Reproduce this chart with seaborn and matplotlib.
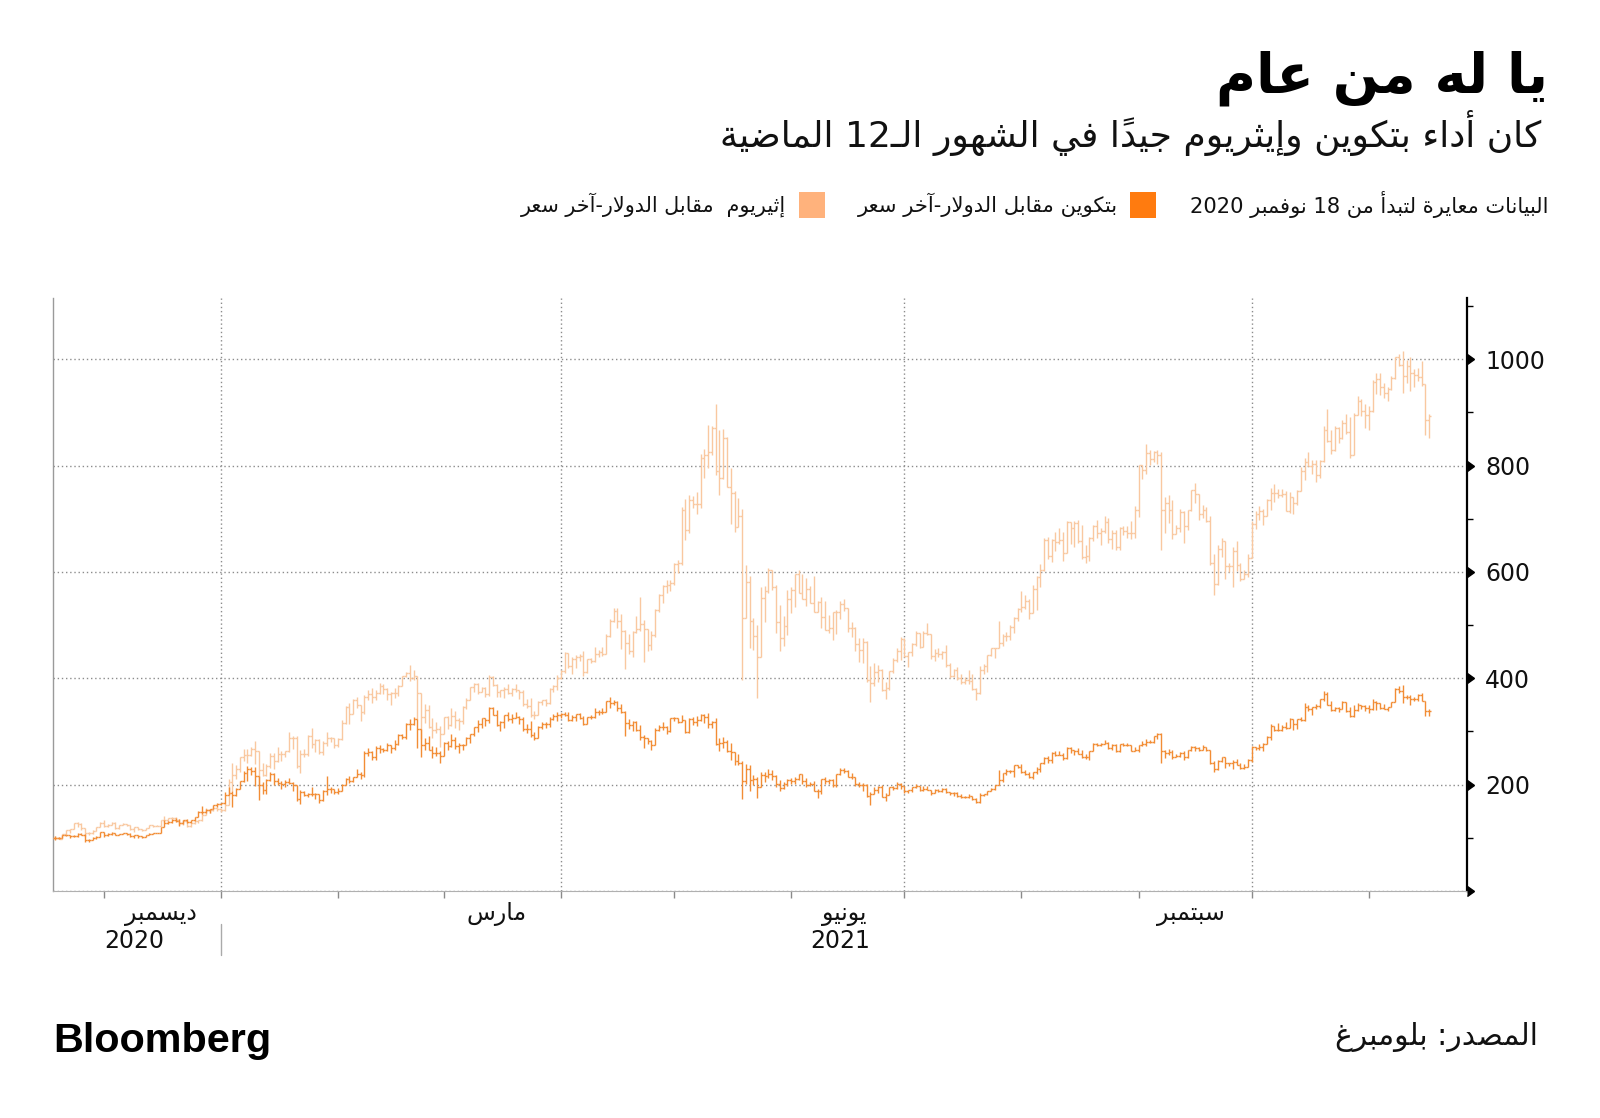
import numpy as np
import pandas as pd
import matplotlib
matplotlib.use("Agg")
import matplotlib.pyplot as plt
import matplotlib.dates as mdates
import matplotlib.transforms as mtrans
from matplotlib.lines import Line2D
from matplotlib.patches import Rectangle
import seaborn as sns

# ---------------- data (daily, 18 Nov 2020 -> 17 Nov 2021) ----------------
start_date = "2020-11-18"

# Bitcoin vs USD, thousands of dollars
btc_close = [
    17.8, 17.8, 18.7, 18.7, 18.4, 18.4, 19.1, 18.7, 17.2, 17.1, 17.7, 18.2, 19.6,
    18.8, 19.2, 19.4, 18.7, 19.2, 19.4, 19.2, 18.3, 18.6, 18.3, 18.0, 18.8, 19.2, 19.3, 19.4, 21.4, 22.8, 23.1, 23.9, 23.5, 22.7, 23.8, 23.2, 23.7, 24.7, 26.4, 26.3, 27.0, 27.4, 28.8, 29.0,
    29.4, 32.1, 32.8, 32.0, 34.0, 36.8, 39.4, 40.8, 40.3, 38.4, 35.6, 33.9, 37.3, 39.2, 36.8, 36.2, 35.8, 36.6, 36.1, 35.5, 30.8, 33.0, 32.1, 32.3, 32.4, 32.6, 30.4, 33.5, 34.3, 34.3, 33.1,
    33.5, 35.5, 37.5, 36.9, 38.1, 39.3, 38.9, 46.2, 46.5, 44.9, 47.9, 47.5, 47.1, 48.7, 47.9, 49.2, 52.2, 51.7, 55.9, 55.9, 57.5, 54.1, 48.9, 49.7, 47.1, 46.3, 46.2, 45.1,
    49.6, 48.4, 50.5, 48.6, 48.9, 48.9, 51.2, 52.4, 54.9, 56.0, 57.8, 57.2, 61.2, 59.0, 55.6, 56.5, 58.9, 57.6, 58.0, 58.1, 57.4, 54.1, 54.3, 52.3, 51.3, 55.0, 55.8, 55.8, 57.6, 58.7, 58.9,
    59.1, 59.0, 57.1, 58.2, 59.1, 58.0, 56.0, 58.1, 58.1, 59.8, 59.9, 59.8, 63.5, 62.9, 63.2, 61.4, 60.0, 56.2, 55.7, 56.5, 53.8, 51.7, 51.1, 50.1, 49.0, 54.0, 55.0, 54.8, 53.6, 57.8,
    57.8, 56.6, 57.2, 53.2, 57.5, 56.4, 57.3, 58.8, 58.2, 55.8, 56.7, 49.2, 49.7, 49.9, 46.8, 46.4, 43.5, 42.9, 36.7, 40.8, 37.3, 37.5, 34.7, 38.8, 38.4, 39.3, 38.4, 35.7, 34.6, 35.7, 37.3,
    36.7, 37.6, 39.2, 36.9, 35.5, 35.8, 33.6, 33.4, 37.4, 36.7, 37.3, 35.6, 39.1, 40.5, 40.1, 38.3, 38.1, 35.8, 35.5, 35.6, 31.7, 32.5, 33.7, 34.7, 31.6, 32.2, 34.7, 34.5, 35.9, 35.0,
    33.5, 33.8, 34.7, 35.3, 33.7, 34.2, 33.9, 32.9, 33.8, 33.5, 34.3, 33.1, 32.7, 32.8, 31.8, 31.4, 31.5, 31.8, 30.8, 29.8, 32.1, 32.3, 33.6, 34.3, 35.4, 37.3, 39.5, 40.0, 40.0, 42.2, 41.6,
    39.9, 39.2, 38.2, 39.7, 40.9, 42.8, 44.6, 43.8, 46.3, 45.6, 45.6, 44.4, 47.8, 47.1, 47.0, 45.9, 44.7, 44.8, 46.7, 49.3, 48.9, 49.3, 49.5, 47.7, 48.9, 46.9, 49.1, 48.9, 48.8, 47.0, 47.2,
    48.8, 49.3, 50.0, 49.9, 51.8, 52.7, 46.8, 46.1, 46.4, 44.9, 45.2, 46.1, 44.9, 47.1, 48.1, 47.8, 47.3, 48.3, 47.3, 43.0, 40.7, 43.6, 44.9, 42.8, 42.7, 43.2, 42.2, 41.0, 41.5, 43.8,
    48.2, 47.7, 48.2, 49.1, 51.5, 55.3, 53.8, 53.9, 55.0, 54.7, 57.5, 56.0, 57.4, 57.3, 61.7, 60.9, 61.5, 62.0, 64.3, 66.0, 62.2, 60.7, 61.4, 60.9, 63.2, 60.3, 58.5, 60.6, 62.3, 61.9, 61.3,
    61.0, 63.2, 62.9, 61.4, 61.0, 61.5, 63.3, 67.6, 66.9, 64.9, 64.9, 64.2, 64.4, 65.5, 63.6, 60.2, 60.4,
]
btc_high = [
    18.4, 18.1, 18.8, 18.9, 18.8, 18.7, 19.4, 19.5, 19.0, 17.4, 18.2, 18.3, 19.9,
    19.8, 19.4, 19.6, 19.5, 19.2, 19.4, 19.4, 19.3, 18.6, 18.6, 18.3, 18.9, 19.4, 19.4, 19.5, 21.5, 23.8, 23.3, 24.1, 24.3, 24.1, 23.8, 24.1, 23.8, 24.8, 26.7, 28.4, 27.4, 27.4, 28.9, 29.3,
    29.6, 33.2, 34.8, 33.6, 34.4, 36.9, 40.2, 41.9, 41.4, 41.4, 38.3, 36.6, 37.6, 39.7, 39.6, 37.9, 36.9, 37.3, 37.8, 36.4, 35.6, 33.8, 33.6, 32.9, 34.8, 32.8, 32.6, 33.8, 38.4, 34.8, 34.3,
    34.6, 35.9, 37.7, 38.6, 38.3, 40.9, 39.7, 46.7, 48.0, 47.0, 48.4, 48.9, 48.0, 49.6, 49.0, 50.5, 52.5, 52.5, 56.2, 57.5, 58.4, 57.5, 54.2, 51.3, 51.8, 48.4, 48.3, 46.9,
    49.8, 50.1, 52.6, 51.7, 49.4, 49.2, 51.4, 52.6, 54.9, 57.3, 58.0, 58.0, 61.7, 61.6, 60.5, 56.8, 58.9, 60.0, 59.4, 59.9, 58.6, 58.4, 55.8, 57.0, 53.2, 55.1, 56.6, 56.5, 58.4, 59.4, 59.8,
    59.5, 60.0, 59.8, 58.9, 59.2, 59.5, 58.6, 58.2, 58.9, 61.2, 60.7, 61.2, 63.7, 64.9, 63.8, 63.6, 62.5, 60.4, 57.5, 57.0, 56.8, 55.4, 52.1, 51.2, 50.6, 54.4, 55.4, 56.4, 55.2, 58.0,
    58.4, 57.9, 58.9, 57.0, 57.9, 58.3, 58.6, 59.3, 59.2, 59.5, 57.0, 57.9, 51.3, 51.4, 50.7, 49.7, 46.6, 45.8, 43.5, 42.4, 42.2, 38.8, 38.3, 39.8, 39.8, 40.8, 40.4, 38.8, 37.2, 36.4, 37.5,
    37.9, 38.2, 39.3, 39.2, 37.8, 36.4, 36.8, 34.0, 37.5, 38.1, 37.6, 37.4, 39.3, 41.0, 41.3, 40.5, 39.4, 38.2, 36.4, 36.0, 35.7, 33.3, 34.8, 35.2, 35.5, 32.7, 34.7, 35.2, 36.6, 36.0,
    35.0, 33.9, 34.9, 35.9, 35.3, 35.0, 35.0, 33.9, 34.0, 34.2, 34.6, 34.6, 33.3, 33.1, 33.2, 32.3, 31.9, 32.4, 31.9, 31.0, 32.8, 32.5, 33.6, 34.4, 35.4, 40.5, 39.5, 40.9, 40.6, 42.3, 42.3,
    42.6, 40.4, 39.8, 39.9, 41.4, 43.0, 44.7, 45.3, 46.5, 46.7, 46.7, 46.2, 48.1, 48.1, 47.3, 48.0, 47.1, 46.0, 47.0, 49.4, 49.7, 49.4, 50.4, 49.8, 49.2, 49.3, 49.1, 49.6, 49.6, 48.9, 48.1,
    48.9, 50.3, 51.0, 50.5, 51.9, 52.8, 52.9, 47.3, 47.4, 47.1, 45.9, 46.4, 46.7, 47.3, 48.4, 48.4, 48.2, 48.7, 48.3, 47.3, 43.6, 44.0, 44.9, 45.0, 43.0, 44.0, 44.3, 42.7, 42.5, 44.1,
    48.5, 48.3, 49.3, 49.4, 51.9, 55.8, 55.3, 56.1, 55.4, 56.5, 57.8, 57.7, 57.6, 58.4, 62.8, 62.2, 61.7, 62.6, 64.4, 66.9, 66.6, 63.6, 61.7, 61.5, 63.7, 63.2, 61.5, 62.1, 62.9, 62.4, 62.4,
    62.4, 64.2, 63.5, 63.0, 62.6, 61.6, 63.3, 67.8, 68.5, 69.0, 65.6, 65.5, 65.0, 65.8, 66.4, 63.6, 60.8,
]
btc_low = [
    17.2, 17.4, 17.7, 18.4, 17.7, 18.0, 18.0, 18.6, 16.4, 16.5, 17.0, 17.5, 18.2,
    18.2, 18.4, 18.9, 18.6, 18.6, 19.0, 18.9, 18.2, 17.7, 17.9, 17.6, 18.0, 18.8, 19.0, 19.3, 19.4, 21.3, 22.4, 22.8, 23.1, 21.9, 22.4, 22.7, 22.8, 23.5, 24.6, 25.8, 26.1, 26.0, 27.3, 28.0,
    28.8, 29.1, 32.0, 28.1, 31.8, 34.0, 36.4, 36.9, 38.7, 35.1, 30.5, 32.6, 32.6, 36.8, 35.6, 35.5, 34.1, 34.9, 35.9, 33.6, 30.1, 29.2, 31.7, 31.4, 31.9, 30.9, 29.5, 30.0, 32.1, 32.7, 32.4,
    32.3, 33.4, 35.4, 36.2, 36.6, 38.1, 37.4, 38.1, 45.2, 43.8, 43.9, 46.2, 46.4, 47.0, 46.3, 47.1, 48.9, 50.9, 50.9, 53.9, 55.5, 48.0, 45.0, 47.2, 47.1, 44.5, 45.1, 43.0,
    45.1, 47.2, 48.2, 47.5, 46.3, 47.1, 48.9, 49.4, 51.8, 53.1, 54.4, 55.3, 56.1, 59.0, 55.1, 53.6, 54.4, 57.0, 56.3, 57.9, 56.0, 53.7, 53.0, 51.7, 50.4, 51.6, 54.2, 54.7, 55.0, 57.3, 56.9,
    57.9, 58.5, 56.9, 57.0, 56.8, 57.6, 55.6, 55.9, 57.7, 58.0, 59.0, 59.4, 59.8, 61.3, 62.2, 60.2, 59.6, 52.0, 54.1, 53.4, 53.6, 50.6, 47.8, 49.1, 47.1, 49.0, 53.4, 53.9, 52.4, 53.1,
    56.9, 56.1, 56.5, 53.0, 52.9, 55.4, 55.3, 56.9, 56.3, 54.6, 54.4, 48.9, 46.9, 48.0, 46.6, 43.9, 42.2, 42.3, 30.7, 35.8, 33.5, 35.4, 31.2, 34.9, 36.5, 37.8, 37.3, 34.7, 33.6, 34.0, 35.2,
    35.8, 35.9, 37.2, 35.7, 34.8, 35.3, 33.4, 31.1, 32.4, 35.8, 35.9, 34.8, 34.9, 38.8, 39.5, 38.1, 37.4, 35.2, 34.9, 33.4, 31.4, 28.9, 32.4, 32.8, 31.3, 30.2, 32.0, 33.9, 34.3, 34.0,
    32.8, 32.7, 33.1, 34.4, 33.4, 33.6, 33.8, 32.2, 32.9, 33.1, 33.2, 32.7, 32.2, 31.9, 31.6, 31.1, 31.1, 31.2, 30.6, 29.3, 29.5, 31.8, 32.2, 33.4, 33.9, 35.4, 36.5, 38.8, 39.4, 38.3, 41.1,
    39.5, 38.7, 37.7, 37.6, 39.0, 39.9, 42.5, 43.0, 43.0, 45.2, 45.4, 43.9, 44.3, 46.3, 45.6, 45.8, 44.6, 44.3, 43.8, 46.7, 48.6, 48.4, 49.3, 47.6, 47.2, 46.6, 46.6, 48.6, 48.4, 46.9, 46.7,
    46.6, 48.6, 48.5, 49.5, 49.5, 50.9, 43.0, 44.6, 45.4, 44.2, 44.8, 44.9, 43.8, 44.6, 46.8, 47.0, 46.8, 47.1, 46.9, 42.5, 39.8, 40.6, 43.1, 41.2, 41.7, 40.9, 42.1, 40.9, 40.8, 41.5,
    43.3, 47.1, 47.2, 46.9, 49.1, 50.4, 53.4, 53.7, 53.7, 54.1, 54.4, 53.9, 54.2, 56.9, 56.9, 60.3, 58.9, 60.9, 61.3, 63.6, 62.1, 60.1, 60.1, 59.8, 60.8, 59.9, 58.2, 58.2, 60.4, 60.9, 60.1,
    59.5, 60.7, 60.5, 60.8, 60.9, 60.2, 61.5, 63.3, 66.3, 63.0, 64.2, 62.3, 63.6, 63.7, 63.5, 58.7, 58.5,
]

# Ether vs USD, dollars
eth_close = [
    479, 472, 509, 549, 560, 608, 604, 568, 518, 518, 538, 575, 616,
    588, 598, 616, 569, 596, 601, 591, 554, 573, 560, 546, 568, 590, 586, 589, 636, 642, 654, 659, 638, 609, 634, 583, 611, 626, 635, 683, 731, 732, 751, 737,
    730, 775, 979, 1042, 1100, 1208, 1225, 1224, 1281, 1263, 1087, 1045, 1130, 1218, 1171, 1233, 1230, 1257, 1377, 1382, 1122, 1234, 1233, 1392, 1324, 1358, 1253, 1331, 1382, 1376, 1314,
    1369, 1515, 1660, 1594, 1719, 1677, 1614, 1750, 1770, 1743, 1785, 1843, 1815, 1776, 1781, 1781, 1848, 1937, 1960, 1919, 1935, 1781, 1570, 1626, 1475, 1446, 1459, 1417,
    1565, 1492, 1575, 1541, 1533, 1655, 1723, 1834, 1868, 1795, 1825, 1772, 1924, 1855, 1792, 1806, 1822, 1782, 1816, 1812, 1788, 1683, 1670, 1584, 1589, 1702, 1716, 1691, 1819, 1846, 1919,
    1977, 2143, 2028, 2093, 2108, 2118, 1971, 2088, 2073, 2136, 2153, 2139, 2299, 2435, 2519, 2431, 2344, 2237, 2166, 2330, 2364, 2403, 2363, 2213, 2303, 2534, 2662, 2747, 2757, 2773,
    2945, 2950, 3431, 3253, 3522, 3490, 3484, 3903, 3928, 3952, 4168, 3785, 3716, 4079, 3641, 3587, 3282, 3379, 2460, 2784, 2430, 2296, 2109, 2643, 2706, 2888, 2736, 2419, 2279, 2390, 2633,
    2707, 2855, 2688, 2631, 2716, 2590, 2517, 2607, 2472, 2353, 2373, 2510, 2510, 2589, 2549, 2367, 2372, 2228, 2175, 2240, 1898, 1875, 1971, 1988, 1813, 1830, 1982, 2085, 2163, 2274,
    2114, 2150, 2226, 2320, 2199, 2324, 2316, 2116, 2147, 2139, 2155, 2036, 1940, 1994, 1918, 1880, 1898, 1895, 1820, 1787, 1990, 2025, 2124, 2188, 2191, 2233, 2299, 2298, 2381, 2462, 2536,
    2561, 2610, 2502, 2724, 2827, 2891, 3158, 3013, 3164, 3141, 3164, 3048, 3322, 3265, 3310, 3150, 3011, 3017, 3183, 3286, 3226, 3243, 3320, 3173, 3225, 3101, 3269, 3245, 3227, 3227, 3434,
    3835, 3793, 3944, 3887, 3951, 3927, 3427, 3497, 3427, 3211, 3270, 3410, 3285, 3430, 3613, 3572, 3398, 3432, 3329, 2958, 2764, 3077, 3155, 2931, 2925, 3063, 2934, 2807, 2853, 3001,
    3307, 3391, 3418, 3380, 3518, 3581, 3587, 3563, 3576, 3425, 3545, 3492, 3606, 3786, 3863, 3830, 3847, 3748, 3877, 4155, 4054, 3970, 4168, 4082, 4217, 4131, 3930, 4287, 4414, 4325, 4288,
    4324, 4584, 4607, 4537, 4482, 4521, 4620, 4813, 4735, 4637, 4726, 4668, 4648, 4627, 4568, 4239, 4281,
]
eth_high = [
    494, 484, 512, 551, 562, 611, 620, 616, 571, 533, 546, 580, 619,
    635, 606, 623, 619, 597, 609, 605, 594, 577, 574, 561, 569, 594, 593, 597, 643, 675, 659, 667, 663, 644, 640, 634, 614, 628, 638, 709, 750, 735, 754, 753,
    749, 788, 1011, 1155, 1132, 1210, 1278, 1283, 1300, 1353, 1263, 1150, 1140, 1243, 1241, 1293, 1262, 1263, 1430, 1397, 1396, 1270, 1281, 1402, 1468, 1373, 1369, 1349, 1435, 1389, 1380,
    1376, 1540, 1663, 1695, 1731, 1747, 1655, 1766, 1808, 1828, 1806, 1874, 1866, 1827, 1795, 1824, 1854, 1937, 1973, 2036, 1987, 1938, 1778, 1684, 1672, 1562, 1524, 1482,
    1567, 1573, 1650, 1620, 1555, 1670, 1734, 1838, 1875, 1872, 1839, 1839, 1941, 1934, 1867, 1808, 1833, 1868, 1827, 1868, 1813, 1809, 1725, 1737, 1625, 1707, 1719, 1728, 1832, 1852, 1942,
    1988, 2152, 2145, 2107, 2130, 2139, 2160, 2093, 2103, 2195, 2175, 2201, 2318, 2448, 2545, 2547, 2497, 2350, 2314, 2346, 2478, 2644, 2437, 2364, 2345, 2537, 2675, 2756, 2797, 2800,
    2951, 2985, 3457, 3535, 3565, 3562, 3590, 3933, 3982, 4197, 4188, 4382, 4151, 4160, 4085, 3811, 3601, 3540, 3437, 2936, 2839, 2459, 2393, 2734, 2745, 2911, 2890, 2760, 2575, 2475, 2708,
    2739, 2785, 2891, 2859, 2817, 2744, 2836, 2616, 2646, 2616, 2487, 2514, 2533, 2615, 2631, 2550, 2424, 2381, 2283, 2280, 2256, 2026, 2053, 2033, 2000, 1883, 1985, 2099, 2186, 2289,
    2281, 2154, 2237, 2344, 2318, 2346, 2411, 2317, 2180, 2188, 2161, 2217, 2049, 2002, 2021, 1958, 1926, 1993, 1951, 1825, 2027, 2044, 2130, 2190, 2191, 2432, 2316, 2332, 2392, 2466, 2551,
    2700, 2665, 2629, 2752, 2837, 2942, 3182, 3186, 3172, 3229, 3269, 3234, 3330, 3317, 3330, 3337, 3293, 3114, 3186, 3295, 3340, 3268, 3373, 3359, 3251, 3248, 3279, 3283, 3284, 3330, 3465,
    3839, 3837, 4028, 3970, 3966, 3970, 3958, 3547, 3564, 3522, 3292, 3439, 3426, 3432, 3614, 3676, 3572, 3474, 3460, 3381, 3032, 3120, 3175, 3150, 2953, 3098, 3156, 2953, 2892, 3037,
    3336, 3425, 3464, 3439, 3534, 3632, 3662, 3625, 3625, 3600, 3597, 3545, 3614, 3818, 3896, 3957, 3884, 3881, 3880, 4185, 4340, 4148, 4184, 4176, 4239, 4296, 4266, 4305, 4457, 4431, 4387,
    4364, 4601, 4661, 4667, 4572, 4542, 4636, 4812, 4838, 4868, 4778, 4811, 4705, 4714, 4772, 4558, 4294,
]
eth_low = [
    465, 464, 471, 508, 523, 559, 579, 551, 486, 504, 511, 537, 573,
    575, 576, 594, 560, 559, 591, 587, 548, 531, 548, 541, 545, 567, 577, 582, 588, 624, 625, 648, 630, 592, 594, 576, 577, 604, 610, 634, 681, 707, 722, 717,
    716, 717, 774, 897, 1010, 1072, 1170, 1157, 1215, 1140, 917, 1037, 1034, 1107, 1101, 1162, 1174, 1210, 1252, 1280, 1108, 1064, 1211, 1213, 1291, 1253, 1230, 1228, 1305, 1338, 1292,
    1301, 1364, 1507, 1508, 1596, 1648, 1533, 1593, 1718, 1696, 1722, 1777, 1770, 1722, 1678, 1740, 1755, 1842, 1923, 1891, 1897, 1546, 1371, 1516, 1468, 1376, 1427, 1301,
    1414, 1462, 1482, 1465, 1449, 1505, 1635, 1722, 1791, 1778, 1788, 1751, 1759, 1847, 1750, 1750, 1742, 1776, 1757, 1793, 1731, 1669, 1645, 1563, 1547, 1589, 1674, 1667, 1680, 1795, 1811,
    1910, 1960, 2011, 1957, 2012, 2073, 1940, 1962, 2053, 2062, 2110, 2115, 2137, 2292, 2419, 2370, 2181, 2000, 2137, 2110, 2321, 2338, 2062, 2162, 2168, 2292, 2517, 2594, 2680, 2700,
    2755, 2861, 2938, 3165, 3223, 3447, 3399, 3453, 3719, 3810, 3926, 3747, 3569, 3711, 3640, 3303, 3230, 3361, 1900, 2455, 2192, 2170, 1737, 2133, 2419, 2683, 2710, 2320, 2163, 2204, 2310,
    2508, 2560, 2691, 2629, 2563, 2597, 2563, 2512, 2366, 2438, 2327, 2261, 2313, 2453, 2520, 2329, 2291, 2163, 2062, 2054, 1884, 1701, 1844, 1879, 1800, 1731, 1809, 1959, 2060, 2084,
    2107, 2017, 2120, 2211, 2190, 2206, 2303, 2090, 2067, 2105, 2089, 2019, 1919, 1930, 1902, 1866, 1860, 1867, 1813, 1722, 1775, 1953, 1976, 2113, 2096, 2191, 2204, 2250, 2257, 2324, 2434,
    2511, 2540, 2451, 2508, 2528, 2736, 2882, 2990, 2962, 3065, 3123, 2976, 3047, 3128, 3096, 3137, 2991, 2950, 2969, 3150, 3176, 3113, 3225, 3131, 3082, 3069, 3073, 3202, 3183, 3168, 3183,
    3369, 3711, 3759, 3833, 3867, 3849, 3070, 3220, 3313, 3166, 3215, 3233, 3131, 3255, 3424, 3497, 3343, 3363, 3324, 2934, 2667, 2757, 3004, 2807, 2876, 2740, 2886, 2796, 2806, 2827,
    2997, 3263, 3339, 3295, 3373, 3429, 3500, 3544, 3545, 3418, 3404, 3397, 3473, 3609, 3700, 3825, 3753, 3683, 3717, 3863, 4048, 3938, 3960, 4037, 4071, 4118, 3903, 3932, 4285, 4280, 4172,
    4149, 4313, 4474, 4470, 4440, 4417, 4513, 4614, 4728, 4482, 4578, 4504, 4538, 4592, 4545, 4105, 4077,
]

month_labels = ["ديسمبر", "مارس", "يونيو", "سبتمبر"]
month_label_dates = ["2020-12-16", "2021-03-15", "2021-06-15", "2021-09-15"]
year_labels = ["2020", "2021"]
year_label_dates = ["2020-12-09", "2021-06-14"]
y_ticks = [0, 200, 400, 600, 800, 1000]
y_tick_labels = ["", "200", "400", "600", "800", "1000"]

title = "يا له من عام"
subtitle = "كان أداء بتكوين وإيثريوم \u062c\u064a\u062f\u0627\u064b في الشهور الـ12 الماضية"
note = "البيانات معايرة لتبدأ من 18 نوفمبر 2020"
btc_label = "بتكوين مقابل الدولار-آخر سعر"
eth_label = "إثيريوم  مقابل الدولار-آخر سعر"
source = "المصدر: بلومبرغ"

BTC_COLOR = "#F28D35"
ETH_COLOR = "#F9C8A0"
BTC_KEY = "#FF7B0F"
ETH_KEY = "#FFB27C"

# ---------------- Arabic shaping (presentation forms + visual order) ----------------
_table = [("\u0621", 0xFE80, 1), ("\u0622", 0xFE81, 2), ("\u0623", 0xFE83, 2), ("\u0624", 0xFE85, 2),
          ("\u0625", 0xFE87, 2), ("\u0626", 0xFE89, 4), ("\u0627", 0xFE8D, 2), ("\u0628", 0xFE8F, 4),
          ("\u0629", 0xFE93, 2), ("\u062A", 0xFE95, 4), ("\u062B", 0xFE99, 4), ("\u062C", 0xFE9D, 4),
          ("\u062D", 0xFEA1, 4), ("\u062E", 0xFEA5, 4), ("\u062F", 0xFEA9, 2), ("\u0630", 0xFEAB, 2),
          ("\u0631", 0xFEAD, 2), ("\u0632", 0xFEAF, 2), ("\u0633", 0xFEB1, 4), ("\u0634", 0xFEB5, 4),
          ("\u0635", 0xFEB9, 4), ("\u0636", 0xFEBD, 4), ("\u0637", 0xFEC1, 4), ("\u0638", 0xFEC5, 4),
          ("\u0639", 0xFEC9, 4), ("\u063A", 0xFECD, 4), ("\u0641", 0xFED1, 4), ("\u0642", 0xFED5, 4),
          ("\u0643", 0xFED9, 4), ("\u0644", 0xFEDD, 4), ("\u0645", 0xFEE1, 4), ("\u0646", 0xFEE5, 4),
          ("\u0647", 0xFEE9, 4), ("\u0648", 0xFEED, 2), ("\u0649", 0xFEEF, 2), ("\u064A", 0xFEF1, 4)]
FORMS = {c: (s, n) for c, s, n in _table}
LAM_ALEF = {"\u0622": 0xFEF5, "\u0623": 0xFEF7, "\u0625": 0xFEF9, "\u0627": 0xFEFB}
TATWEEL = "\u0640"


def _is_mark(c):
    return "\u064B" <= c <= "\u0652" or c == "\u0670"


def _joins_next(c):
    return c == TATWEEL or (c in FORMS and FORMS[c][1] == 4)


def _joins_prev(c):
    return c == TATWEEL or (c in FORMS and FORMS[c][1] >= 2)


def shape(text):
    ch = list(text)
    n = len(ch)

    def prev_base(k):
        k -= 1
        while k >= 0 and _is_mark(ch[k]):
            k -= 1
        return ch[k] if k >= 0 else None

    def next_base(k):
        k += 1
        while k < n and _is_mark(ch[k]):
            k += 1
        return (ch[k], k) if k < n else (None, None)

    clusters = []
    i = 0
    while i < n:
        c = ch[i]
        if _is_mark(c) and clusters:
            clusters[-1] += c
            i += 1
            continue
        p = prev_base(i)
        cp = p is not None and _joins_next(p) and _joins_prev(c)
        nb, nk = next_base(i)
        if c == "\u0644" and nb in LAM_ALEF:
            clusters.append(chr(LAM_ALEF[nb] + (1 if cp else 0)))
            i = nk + 1
            continue
        if c in FORMS:
            s, cnt = FORMS[c]
            cn = nb is not None and _joins_next(c) and _joins_prev(nb)
            if cnt == 1:
                g = chr(s)
            elif cnt == 2:
                g = chr(s + (1 if cp else 0))
            else:
                g = chr(s + (3 if (cp and cn) else 2 if cn else 1 if cp else 0))
            clusters.append(g)
        else:
            clusters.append(c)
        i += 1
    tokens = []
    for cl in clusters:
        ltr = cl[0].isascii() and cl[0].isalnum()
        if ltr and tokens and tokens[-1][1]:
            tokens[-1][0] += cl
        else:
            tokens.append([cl, ltr])
    return "".join(t[0] for t in reversed(tokens))


# ---------------- prepare OHLC ----------------
dates = pd.date_range(start_date, periods=len(btc_close), freq="D")
xd = mdates.date2num(dates)


def ohlc(close, high, low):
    c = np.asarray(close, float)
    base = c[0]
    c = c / base * 100
    h = np.asarray(high, float) / base * 100
    l = np.asarray(low, float) / base * 100
    o = np.r_[c[0], c[:-1]]
    h = np.maximum(h, np.maximum(o, c))
    l = np.minimum(l, np.minimum(o, c))
    return o, h, l, c


bo, bh, bl, bc = ohlc(btc_close, btc_high, btc_low)
eo, eh, el, ec = ohlc(eth_close, eth_high, eth_low)

# ---------------- figure ----------------
sns.set_theme(style="white")
plt.rcParams["font.family"] = ["DejaVu Sans"]
W, H = 1600, 1118
fig = plt.figure(figsize=(16, 11.18), dpi=100)
fig.patch.set_facecolor("white")
L, R, B, T = 53, 1467, 891, 298
ax = fig.add_axes([L / W, 1 - B / H, (R - L) / W, (B - T) / H])
ax.set_facecolor("white")


def draw_ohlc(o, h, l, c, color, z):
    ax.vlines(xd, l, h, color=color, lw=1.0, zorder=z)
    ax.hlines(o, xd - 0.5, xd, color=color, lw=1.0, zorder=z)
    ax.hlines(c, xd, xd + 0.5, color=color, lw=1.0, zorder=z)


draw_ohlc(eo, eh, el, ec, ETH_COLOR, 3)
draw_ohlc(bo, bh, bl, bc, BTC_COLOR, 4)

ax.set_xlim(mdates.date2num(pd.Timestamp("2020-11-17 12:00")), mdates.date2num(pd.Timestamp("2021-11-27")))
ax.set_ylim(0, 1115)

# x ticks
month_starts = pd.date_range("2020-12-01", "2021-11-01", freq="MS")
ax.set_xticks(mdates.date2num(month_starts))
ax.set_xticklabels([""] * len(month_starts))
ax.set_xticks(mdates.date2num(pd.to_datetime(month_label_dates)), minor=True)
ax.set_xticklabels([shape(m) for m in month_labels], minor=True)
ax.tick_params(axis="x", which="major", direction="out", length=5, width=1, color="#8a8a8a", bottom=True)
ax.tick_params(axis="x", which="minor", length=0, pad=8, labelsize=17, labelcolor="#111111", bottom=True)

# y ticks on right
ax.yaxis.tick_right()
ax.set_yticks(y_ticks)
ax.set_yticklabels(y_tick_labels)
ax.set_yticks(np.arange(100, 1101, 200), minor=True)
ax.tick_params(axis="y", which="major", length=0, pad=13, labelsize=17, labelcolor="#111111")
ax.tick_params(axis="y", which="minor", direction="out", length=4, width=1, color="black", right=True)
ax.plot(np.ones(len(y_ticks)), y_ticks, ls="none", marker=9, ms=7, color="black",
        transform=mtrans.blended_transform_factory(ax.transAxes, ax.transData), clip_on=False, zorder=6)

# grid
ax.grid(False)
dot = (0, (1, 2))
for v in y_ticks:
    ax.axhline(v, color="#8c8c8c", lw=1, ls=dot, zorder=1)
for d in ["2021-01-01", "2021-04-01", "2021-07-01", "2021-10-01"]:
    ax.axvline(mdates.date2num(pd.Timestamp(d)), color="#8c8c8c", lw=1, ls=dot, zorder=1)

ax.spines["top"].set_visible(False)
ax.spines["left"].set_color("#9a9a9a")
ax.spines["left"].set_linewidth(1)
ax.spines["bottom"].set_color("#b0b0b0")
ax.spines["bottom"].set_linewidth(0.8)
ax.spines["right"].set_color("black")
ax.spines["right"].set_linewidth(1.6)

# year labels + separator
bt = mtrans.blended_transform_factory(ax.transData, ax.transAxes)
for lab, d in zip(year_labels, year_label_dates):
    ax.text(mdates.date2num(pd.Timestamp(d)), (B - 941) / (B - T), lab, transform=bt,
            ha="center", va="center", fontsize=17, color="#111111")
jan = mdates.date2num(pd.Timestamp("2021-01-01"))
ax.add_line(Line2D([jan, jan], [(B - 924) / (B - T), (B - 955) / (B - T)], transform=bt,
                   color="#aaaaaa", lw=1, clip_on=False))

# ---------------- texts ----------------
renderer = fig.canvas.get_renderer()


def fit_text(x, y, s, width, size, **kw):
    t = fig.text(x / W, 1 - y / H, s, fontsize=size, **kw)
    w = t.get_window_extent(renderer).width
    t.set_fontsize(size * width / w)
    return t


fit_text(1548, 93, shape(title), 332, 44, ha="right", va="baseline", weight="bold", color="black")
fit_text(1541, 147, shape(subtitle), 824, 24, ha="right", va="baseline", color="#111111")
fit_text(1548, 205, shape(note), 361, 15, ha="right", va="center", color="#111111")
fit_text(1118, 205, shape(btc_label), 261, 15, ha="right", va="center", color="#111111")
fit_text(786, 205, shape(eth_label), 265, 15, ha="right", va="center", color="#111111")
for x0, col in [(1130, BTC_KEY), (799, ETH_KEY)]:
    fig.add_artist(Rectangle((x0 / W, 1 - 218 / H), 26 / W, 26 / H, transform=fig.transFigure,
                             facecolor=col, edgecolor="none"))

fit_text(53, 1052, "Bloomberg", 218, 30, ha="left", va="baseline", weight="bold",
         family=["Liberation Sans Narrow", "Liberation Sans", "DejaVu Sans"], color="black")
fit_text(1538, 1037, shape(source), 203, 19, ha="right", va="center", color="#111111")

fig.savefig("out.png", dpi=100, facecolor="white")
